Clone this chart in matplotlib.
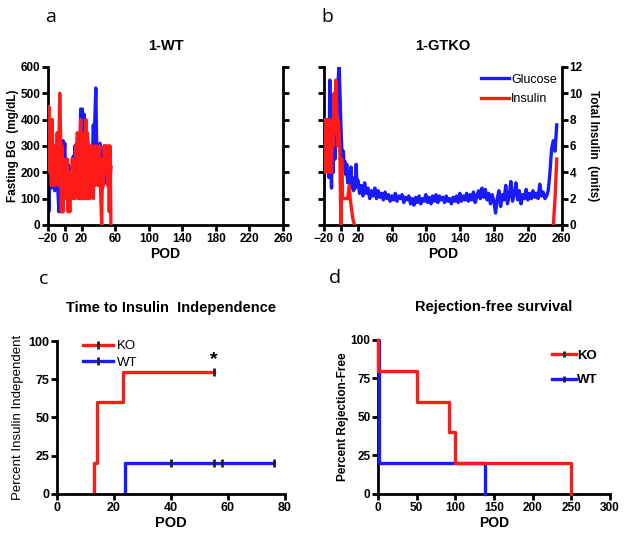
import numpy as np
import matplotlib.pyplot as plt

# ---------- Data ----------
# panel a: 1-WT, daily values from POD -20 to 55
wt_days = np.arange(-20, 56)
wt_glucose = [200, 50, 150, 250, 140, 300, 170, 260, 130, 290,
              160, 240, 120, 50, 250, 150, 50, 200, 320, 260,
              310, 180, 240, 200, 230, 170, 220, 200, 150, 210,
              260, 200, 300, 250, 310, 200, 250, 140, 300, 440,
              380, 440, 300, 420, 350, 400, 270, 330, 300, 290,
              200, 150, 300, 250, 380, 300, 420, 520, 300, 200,
              150, 300, 310, 180, 250, 140, 220, 300, 160, 240,
              200, 250, 180, 220, 170, 220]
wt_insulin = [6, 9, 4, 8, 3, 8, 4, 6, 3, 6,
              4, 7, 3, 6, 10, 7, 1, 6, 1, 5,
              2, 4, 2, 5, 1, 3, 1, 4, 2, 5,
              2, 5, 2, 6, 3, 7, 2, 6, 2, 8,
              2, 7, 2, 6, 2, 8, 2, 7, 2, 6,
              2, 6, 3, 6, 2, 5, 3, 6, 4, 5,
              3, 6, 4, 2, 0, 5, 3, 6, 4, 6,
              6, 3, 6, 1, 6, 0]

# panel b: 1-GTKO
ko_days_early = np.arange(-20, 20)
ko_glucose_early = [150, 300, 200, 320, 250, 330, 180, 550, 300, 140,
                    350, 200, 380, 250, 420, 330, 480, 560, 600, 500,
                    380, 300, 250, 280, 210, 240, 190, 230, 160, 200,
                    180, 150, 220, 140, 170, 130, 180, 140, 230, 150]
ko_days_late = np.arange(20, 256, 2)
ko_glucose_late = [170, 120, 150, 110, 160, 120, 140, 100, 130, 110,
                   140, 100, 130, 105, 120, 95, 125, 100, 115, 90,
                   110, 95, 120, 90, 110, 100, 115, 85, 105, 95,
                   110, 80, 100, 75, 105, 85, 110, 80, 100, 90,
                   115, 85, 105, 80, 110, 90, 115, 85, 110, 95,
                   105, 85, 110, 90, 100, 80, 105, 90, 110, 85,
                   120, 90, 110, 95, 120, 90, 115, 95, 125, 85,
                   110, 130, 100, 140, 105, 135, 95, 120, 80, 115,
                   90, 45, 100, 130, 70, 115, 95, 150, 80, 110,
                   165, 90, 120, 160, 95, 130, 80, 115, 100, 135,
                   95, 120, 100, 130, 105, 120, 100, 155, 110, 125,
                   100, 110, 130, 200, 290, 320, 280, 380]
ko_ins_days = [-20, -19, -18, -17, -16, -15, -14, -13, -12, -11,
               -10, -9, -8, -7, -6, -5, -4, -3, -2, -1,
               0, 1, 2, 4, 6, 8, 10, 11, 12, 13, 14, 16,
               250, 252, 254]
ko_insulin = [8, 4, 8, 6, 8, 4, 8, 5, 7, 4,
              8, 6, 10, 7, 11, 9, 6, 8, 7, 5,
              0, 5, 2, 2, 2, 2, 3, 2, 1.5, 1, 0.5, 0,
              0, 2, 5]

# panel c: time to insulin independence
c_ko_t = [13, 13, 14, 23, 55]
c_ko_pct = [0, 20, 60, 80, 80]
c_ko_cens = [55]
c_wt_t = [24, 24, 76]
c_wt_pct = [0, 20, 20]
c_wt_cens = [40, 55, 58, 76]

# panel d: rejection-free survival
d_ko_t = [0, 0, 50, 92, 100, 250]
d_ko_pct = [100, 80, 60, 40, 20, 0]
d_wt_t = [0, 1, 138]
d_wt_pct = [100, 20, 0]

BLUE = '#1a1aff'
RED = '#ff1a1a'
LW = 2.4
plt.rcParams['font.family'] = ['Liberation Sans', 'DejaVu Sans']

fig = plt.figure(figsize=(6.24, 5.33), dpi=100)


def style(ax, fs=8.5, bold=True):
    for s in ['top', 'right']:
        ax.spines[s].set_visible(False)
    for s in ['left', 'bottom']:
        ax.spines[s].set_linewidth(2)
    ax.tick_params(width=2, length=4, labelsize=fs, pad=1.5)
    if bold:
        for lab in ax.get_xticklabels() + ax.get_yticklabels():
            lab.set_fontweight('bold')


def twin_style(tw):
    for s in ['top', 'left', 'bottom']:
        tw.spines[s].set_visible(False)
    tw.spines['right'].set_linewidth(2)
    tw.tick_params(width=2, length=4, labelsize=8.5, pad=1.5)


xt = [-20, 0, 20, 60, 100, 140, 180, 220, 260]

# ---------- Panel a ----------
ax_a = fig.add_axes([0.0769, 0.578, 0.3766, 0.2964])
ax_a.plot(wt_days, wt_glucose, color=BLUE, lw=LW, label='Glucose')
ax_a.set_xlim(-20, 260)
ax_a.set_ylim(0, 600)
ax_a.set_xticks(xt)
ax_a.set_yticks(range(0, 601, 100))
style(ax_a)
ax_a.set_ylabel('Fasting BG  (mg/dL)', fontsize=8.5, fontweight='bold', labelpad=1)
ax_a.set_xlabel('POD', fontsize=10, fontweight='bold', labelpad=2)
ax_a.set_title('1-WT', fontsize=10.5, fontweight='bold', pad=12)
tw_a = ax_a.twinx()
tw_a.plot(wt_days, wt_insulin, color=RED, lw=LW)
tw_a.set_ylim(0, 12)
tw_a.set_yticks(range(0, 13, 2))
tw_a.set_yticklabels([])
twin_style(tw_a)

# ---------- Panel b ----------
ax_b = fig.add_axes([0.519, 0.578, 0.3814, 0.2964])
ax_b.plot(np.concatenate([ko_days_early, ko_days_late]),
          ko_glucose_early + ko_glucose_late, color=BLUE, lw=LW, label='Glucose')
ax_b.set_xlim(-20, 260)
ax_b.set_ylim(0, 600)
ax_b.set_xticks(xt)
ax_b.set_yticks(range(0, 601, 100))
ax_b.set_yticklabels([])
style(ax_b)
ax_b.set_xlabel('POD', fontsize=10, fontweight='bold', labelpad=2)
ax_b.set_title('1-GTKO', fontsize=10.5, fontweight='bold', pad=12)
tw_b = ax_b.twinx()
ins = np.array(ko_insulin, dtype=float)
d = np.array(ko_ins_days)
tw_b.plot(d[d < 100], ins[d < 100], color=RED, lw=LW, label='Insulin')
tw_b.plot(d[d > 100], ins[d > 100], color=RED, lw=LW)
tw_b.set_ylim(0, 12)
tw_b.set_yticks(range(0, 13, 2))
twin_style(tw_b)
for lab in tw_b.get_yticklabels():
    lab.set_fontweight('bold')
tw_b.set_ylabel('Total Insulin  (units)', fontsize=8.5, fontweight='bold',
                rotation=-90, labelpad=12)
h1, l1 = ax_b.get_legend_handles_labels()
h2, l2 = tw_b.get_legend_handles_labels()
tw_b.legend(h1 + h2, l1 + l2, loc='upper right', bbox_to_anchor=(1.0, 0.99),
            frameon=False, fontsize=9, handlelength=2.2, handletextpad=0.2,
            borderaxespad=0, labelspacing=0.6)

# ---------- Panel c ----------
ax_c = fig.add_axes([0.0913, 0.0732, 0.3654, 0.287])
ax_c.step(c_wt_t, c_wt_pct, where='post', color=BLUE, lw=LW)
ax_c.step(c_ko_t, c_ko_pct, where='post', color=RED, lw=LW)
ax_c.plot(c_ko_cens, [80] * len(c_ko_cens), ls='none', marker='|', ms=6, mew=2, color='#222222')
ax_c.plot(c_wt_cens, [20] * len(c_wt_cens), ls='none', marker='|', ms=6, mew=2, color='#222222')
ax_c.text(55, 88, '*', fontsize=14, fontweight='bold', ha='center', va='center')
ax_c.set_xlim(0, 80)
ax_c.set_ylim(0, 100)
ax_c.set_xticks(range(0, 81, 20))
ax_c.set_yticks(range(0, 101, 25))
style(ax_c, fs=9)
ax_c.set_ylabel('Percent Insulin Independent', fontsize=9.5, labelpad=3)
ax_c.set_xlabel('POD', fontsize=10.5, fontweight='bold', labelpad=2)
ax_c.set_title('Time to Insulin  Independence', fontsize=10.5, fontweight='bold', pad=21)
hk, = ax_c.plot([], [], color=RED, lw=LW, marker='|', ms=6, mew=2, mec='#222222')
hw, = ax_c.plot([], [], color=BLUE, lw=LW, marker='|', ms=6, mew=2, mec='#222222')
ax_c.legend([hk, hw], ['KO', 'WT'], loc='upper left', bbox_to_anchor=(0.09, 1.04),
            frameon=False, fontsize=9.5, handlelength=2.3, handletextpad=0.3,
            borderaxespad=0, labelspacing=0.3, markerscale=1)

# ---------- Panel d ----------
ax_d = fig.add_axes([0.6058, 0.0732, 0.3718, 0.289])
ax_d.step(d_wt_t, d_wt_pct, where='post', color=BLUE, lw=LW, zorder=3, clip_on=False)
ax_d.step(d_ko_t, d_ko_pct, where='post', color=RED, lw=LW, zorder=3, clip_on=False)
ax_d.set_xlim(0, 300)
ax_d.set_ylim(0, 100)
ax_d.set_xticks(range(0, 301, 50))
ax_d.set_yticks(range(0, 101, 25))
style(ax_d)
ax_d.set_ylabel('Percent Rejection-Free', fontsize=8.5, fontweight='bold', labelpad=1)
ax_d.set_xlabel('POD', fontsize=10, fontweight='bold', labelpad=2)
ax_d.set_title('Rejection-free survival', fontsize=10.5, fontweight='bold', pad=21)
hk2, = ax_d.plot([], [], color=RED, lw=LW, marker='|', ms=4, mew=2, mec='#222222')
hw2, = ax_d.plot([], [], color=BLUE, lw=LW, marker='|', ms=4, mew=2, mec='#222222')
leg = ax_d.legend([hk2, hw2], ['KO', 'WT'], loc='upper right', bbox_to_anchor=(0.97, 0.97),
                  frameon=False, fontsize=9.5, handlelength=1.8, handletextpad=0.1,
                  borderaxespad=0, labelspacing=0.9)
for t in leg.get_texts():
    t.set_fontweight('bold')

# ---------- Panel letters ----------
for lbl, x, y in [('a', 0.073, 0.968), ('b', 0.515, 0.968), ('c', 0.063, 0.476), ('d', 0.527, 0.479)]:
    fig.text(x, y, lbl, fontsize=14, family=['Open Sans', 'DejaVu Sans'], va='center')

fig.savefig('out.png', dpi=100)
